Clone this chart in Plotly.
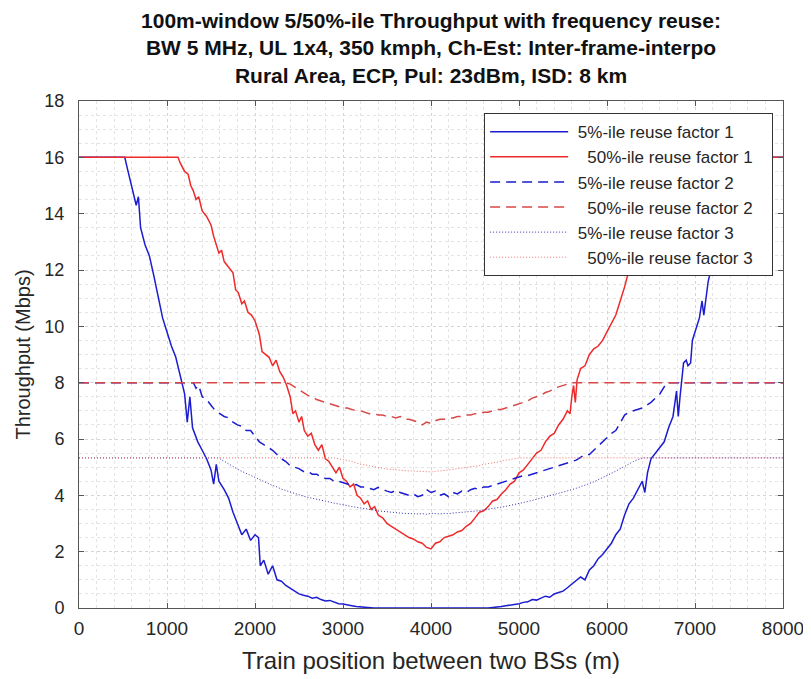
import plotly.graph_objects as go

# 5%-ile, reuse factor 1
b1_x = [0, 520, 550, 600, 650, 675, 700, 750, 800, 850, 900, 950, 1000, 1050, 1100, 1150, 1200, 1230, 1260, 1290,
        1350, 1400, 1450, 1500, 1530, 1560, 1590, 1650, 1700, 1750, 1800, 1850, 1900, 1950, 2000, 2040, 2060, 2100,
        2150, 2200, 2250, 2300, 2350, 2400, 2450, 2500, 2550, 2600, 2650, 2700, 2750, 2800, 2850, 2900, 2950, 3000,
        3050, 3100, 3150, 3200, 3250, 3300, 3350, 4650, 4700, 4750, 4800, 4850, 4900, 4950, 5000, 5050, 5100, 5150,
        5200, 5250, 5300, 5350, 5400, 5450, 5500, 5550, 5600, 5650, 5700, 5750, 5800, 5850, 5900, 5950, 6000, 6050,
        6100, 6150, 6200, 6250, 6300, 6350, 6400, 6430, 6460, 6500, 6550, 6600, 6650, 6700, 6750, 6790, 6810, 6830,
        6850, 6870, 6900, 6920, 6950, 6970, 7000, 7050, 7080, 7100, 7150, 7200, 7250, 7300, 7350, 7400, 7450, 7480,
        8000]
b1_y = [16, 16, 15.6, 15.0, 14.3, 14.6, 13.5, 12.9, 12.5, 11.8, 11.1, 10.3, 9.8, 9.3, 8.9, 8.3, 7.6, 6.6, 7.5, 6.4,
        5.9, 5.6, 5.3, 4.9, 4.4, 5.1, 4.5, 4.2, 3.9, 3.4, 3.0, 2.6, 2.8, 2.4, 2.6, 2.5, 1.5, 1.7,
        1.2, 1.5, 1.0, 0.95, 0.8, 0.7, 0.62, 0.5, 0.45, 0.42, 0.35, 0.38, 0.3, 0.25, 0.27, 0.2, 0.15, 0.14,
        0.1, 0.08, 0.05, 0.04, 0.02, 0.01, 0, 0, 0.01, 0.03, 0.05, 0.08, 0.1, 0.12, 0.15, 0.2, 0.22, 0.3,
        0.28, 0.35, 0.42, 0.38, 0.5, 0.55, 0.6, 0.72, 0.85, 0.95, 1.1, 1.0, 1.35, 1.5, 1.75, 1.9, 2.1, 2.3,
        2.6, 2.8, 3.3, 3.7, 3.9, 4.2, 4.5, 4.1, 4.8, 5.3, 5.5, 5.7, 5.9, 6.4, 6.8, 7.7, 6.8, 7.5,
        8.0, 8.7, 8.8, 8.6, 8.7, 9.5, 9.8, 10.3, 10.9, 10.4, 11.6, 12.2, 12.9, 13.7, 14.4, 15.1, 15.7, 16,
        16]

# 50%-ile, reuse factor 1
r1_x = [0, 1125, 1150, 1200, 1240, 1270, 1300, 1330, 1360, 1400, 1450, 1500, 1530, 1560, 1590, 1620, 1650, 1700,
        1750, 1780, 1810, 1850, 1880, 1920, 1960, 2000, 2050, 2080, 2120, 2160, 2200, 2240, 2280, 2320, 2360, 2400,
        2430, 2460, 2500, 2530, 2560, 2600, 2640, 2680, 2720, 2760, 2800, 2840, 2880, 2920, 2960, 3000, 3040, 3080,
        3120, 3160, 3200, 3240, 3280, 3320, 3360, 3400, 3450, 3500, 3550, 3600, 3650, 3700, 3750, 3800, 3850, 3900,
        3950, 4000, 4050, 4100, 4150, 4200, 4250, 4300, 4350, 4400, 4450, 4500, 4550, 4600, 4650, 4700, 4750, 4800,
        4850, 4900, 4950, 5000, 5050, 5100, 5150, 5200, 5250, 5300, 5350, 5400, 5450, 5500, 5550, 5580, 5600, 5620,
        5640, 5660, 5700, 5750, 5800, 5850, 5900, 5950, 6000, 6050, 6100, 6150, 6200, 6250, 6300, 6350, 6400, 6450,
        6500, 6550, 6600, 6650, 6700, 6750, 6800, 6875, 8000]
r1_y = [16, 16, 15.8, 15.5, 15.4, 15.0, 14.8, 14.5, 14.6, 14.1, 13.9, 13.6, 13.2, 12.9, 12.6, 12.7, 12.3, 12.1,
        11.9, 11.3, 11.2, 10.8, 10.9, 10.5, 10.4, 10.2, 9.7, 9.1, 9.0, 8.9, 8.6, 8.8, 8.4, 8.2, 7.9, 7.5,
        6.9, 7.0, 6.6, 6.8, 6.3, 6.1, 6.2, 5.8, 5.6, 5.8, 5.3, 5.2, 5.0, 4.8, 5.0, 4.6, 4.5, 4.3,
        4.4, 4.0, 3.9, 3.7, 3.8, 3.5, 3.6, 3.3, 3.2, 3.0, 2.9, 2.8, 2.7, 2.6, 2.5, 2.45, 2.35, 2.3,
        2.15, 2.1, 2.3, 2.35, 2.5, 2.55, 2.6, 2.7, 2.75, 2.9, 3.0, 3.2, 3.4, 3.45, 3.6, 3.8, 3.85, 4.05,
        4.2, 4.4, 4.5, 4.8, 4.9, 5.1, 5.3, 5.5, 5.6, 5.9, 6.1, 6.2, 6.5, 6.7, 7.0, 6.9, 7.5, 7.9,
        7.3, 8.1, 8.5, 8.6, 9.0, 9.2, 9.3, 9.5, 9.8, 10.1, 10.4, 10.9, 11.4, 12.0, 12.6, 13.1, 13.6, 14.0,
        14.3, 14.6, 14.9, 15.2, 15.4, 15.6, 15.8, 16, 16]

# 5%-ile, reuse factor 2
b2_x = [0, 1300, 1330, 1360, 1400, 1450, 1500, 1550, 1600, 1650, 1700, 1750, 1800, 1850, 1900, 1950, 2000, 2050,
        2100, 2150, 2200, 2250, 2300, 2350, 2400, 2450, 2500, 2550, 2600, 2650, 2700, 2750, 2800, 2850, 2900, 2950,
        3000, 3050, 3100, 3150, 3200, 3250, 3300, 3350, 3400, 3450, 3500, 3550, 3600, 3650, 3700, 3750, 3800, 3850,
        3900, 3950, 4000, 4050, 4100, 4150, 4200, 4250, 4300, 4350, 4400, 4450, 4500, 4550, 4600, 4650, 4700, 4750,
        4800, 4850, 4900, 4950, 5000, 5050, 5100, 5150, 5200, 5250, 5300, 5350, 5400, 5450, 5500, 5550, 5600, 5650,
        5700, 5750, 5800, 5850, 5900, 5950, 6000, 6050, 6100, 6150, 6200, 6250, 6300, 6350, 6400, 6450, 6500, 6550,
        6600, 6650, 6680, 8000]
b2_y = [8, 8, 7.8, 7.9, 7.5, 7.4, 7.2, 7.0, 6.9, 6.8, 6.75, 6.6, 6.5, 6.45, 6.3, 6.3, 6.1, 5.9,
        5.8, 5.7, 5.6, 5.45, 5.3, 5.2, 5.05, 5.0, 4.95, 4.85, 4.85, 4.75, 4.75, 4.65, 4.6, 4.6, 4.5, 4.5,
        4.45, 4.4, 4.35, 4.38, 4.3, 4.3, 4.25, 4.2, 4.28, 4.2, 4.15, 4.1, 4.18, 4.1, 4.05, 4.0, 4.05, 3.95,
        4.0, 4.2, 4.1, 4.15, 4.0, 4.05, 3.95, 4.1, 4.05, 4.15, 4.1, 4.2, 4.25, 4.2, 4.3, 4.3, 4.35, 4.4,
        4.45, 4.5, 4.55, 4.6, 4.65, 4.7, 4.7, 4.75, 4.8, 4.85, 4.9, 4.95, 5.0, 5.05, 5.1, 5.15, 5.2, 5.25,
        5.35, 5.45, 5.45, 5.6, 5.75, 5.9, 6.05, 6.2, 6.3, 6.55, 6.85, 6.95, 7.0, 7.05, 7.1, 7.2, 7.3, 7.45,
        7.6, 7.85, 8, 8]

# 50%-ile, reuse factor 2
r2_x = [0, 2350, 2400, 2450, 2500, 2550, 2600, 2650, 2700, 2750, 2800, 2850, 2900, 2950, 3000, 3050, 3100, 3150,
        3200, 3250, 3300, 3350, 3400, 3450, 3500, 3550, 3600, 3650, 3700, 3750, 3800, 3850, 3900, 3950, 4000, 4050,
        4100, 4150, 4200, 4250, 4300, 4350, 4400, 4450, 4500, 4550, 4600, 4650, 4700, 4750, 4800, 4850, 4900, 4950,
        5000, 5050, 5100, 5150, 5200, 5250, 5300, 5350, 5400, 5450, 5500, 5550, 5600, 8000]
r2_y = [8, 8, 7.95, 7.85, 7.75, 7.65, 7.55, 7.5, 7.4, 7.35, 7.3, 7.25, 7.2, 7.15, 7.1, 7.1, 7.05, 7.0,
        7.0, 6.95, 6.9, 6.9, 6.85, 6.85, 6.8, 6.8, 6.75, 6.8, 6.7, 6.7, 6.65, 6.6, 6.5, 6.6, 6.55, 6.65,
        6.7, 6.7, 6.75, 6.75, 6.8, 6.8, 6.85, 6.85, 6.9, 6.9, 6.95, 6.95, 7.0, 7.05, 7.05, 7.1, 7.15, 7.2,
        7.25, 7.3, 7.35, 7.45, 7.5, 7.55, 7.65, 7.7, 7.8, 7.85, 7.92, 7.97, 8, 8]

# 5%-ile, reuse factor 3
b3_x = [0, 1580, 1600, 1650, 1700, 1750, 1800, 1850, 1900, 1950, 2000, 2050, 2100, 2150, 2200, 2250, 2300, 2350,
        2400, 2450, 2500, 2550, 2600, 2650, 2700, 2750, 2800, 2850, 2900, 2950, 3000, 3050, 3100, 3150, 3200, 3250,
        3300, 3350, 3400, 3450, 3500, 3550, 3600, 3650, 3700, 3750, 3800, 3850, 3900, 3950, 4000, 4050, 4100, 4150,
        4200, 4250, 4300, 4350, 4400, 4450, 4500, 4550, 4600, 4650, 4700, 4750, 4800, 4850, 4900, 4950, 5000, 5050,
        5100, 5150, 5200, 5250, 5300, 5350, 5400, 5450, 5500, 5550, 5600, 5650, 5700, 5750, 5800, 5850, 5900, 5950,
        6000, 6050, 6100, 6150, 6200, 6250, 6300, 6350, 6400, 6420, 8000]
b3_y = [5.33, 5.33, 5.3, 5.2, 5.1, 5.0, 4.93, 4.85, 4.78, 4.7, 4.62, 4.55, 4.48, 4.42, 4.35, 4.3, 4.22, 4.17,
        4.12, 4.06, 4.0, 3.97, 3.93, 3.9, 3.86, 3.82, 3.8, 3.76, 3.72, 3.7, 3.66, 3.64, 3.6, 3.58, 3.55, 3.52,
        3.5, 3.48, 3.45, 3.43, 3.42, 3.4, 3.38, 3.37, 3.36, 3.35, 3.36, 3.34, 3.35, 3.33, 3.36, 3.35, 3.34, 3.36,
        3.35, 3.37, 3.38, 3.39, 3.4, 3.42, 3.44, 3.46, 3.48, 3.5, 3.52, 3.55, 3.58, 3.61, 3.64, 3.67, 3.7, 3.74,
        3.78, 3.82, 3.86, 3.9, 3.94, 3.98, 4.02, 4.06, 4.1, 4.15, 4.2, 4.25, 4.3, 4.36, 4.42, 4.48, 4.55, 4.62,
        4.7, 4.78, 4.86, 4.95, 5.05, 5.13, 5.2, 5.27, 5.31, 5.33, 5.33]

# 50%-ile, reuse factor 3
r3_x = [0, 2900, 2950, 3000, 3050, 3100, 3150, 3200, 3250, 3300, 3350, 3400, 3450, 3500, 3550, 3600, 3650, 3700,
        3750, 3800, 3850, 3900, 3950, 4000, 4050, 4100, 4150, 4200, 4250, 4300, 4350, 4400, 4450, 4500, 4550, 4600,
        4650, 4700, 4750, 4800, 4850, 4900, 4950, 5000, 8000]
r3_y = [5.33, 5.33, 5.3, 5.27, 5.22, 5.2, 5.15, 5.1, 5.08, 5.05, 5.0, 4.97, 4.95, 4.93, 4.92, 4.9, 4.9, 4.88,
        4.87, 4.86, 4.85, 4.84, 4.82, 4.83, 4.85, 4.86, 4.88, 4.9, 4.92, 4.94, 4.96, 4.98, 5.0, 5.03, 5.06, 5.1,
        5.12, 5.15, 5.18, 5.22, 5.25, 5.28, 5.31, 5.33, 5.33]

names = ["\u00a05%-ile reuse factor 1", "\u00a0\u00a0\u00a050%-ile reuse factor 1",
         "\u00a05%-ile reuse factor 2", "\u00a0\u00a0\u00a050%-ile reuse factor 2",
         "\u00a05%-ile reuse factor 3", "\u00a0\u00a0\u00a050%-ile reuse factor 3"]

blue = "#1c1cd0"
red = "#ee2a2a"

series = [
    (b1_x, b1_y, dict(color=blue, width=1.5)),
    (r1_x, r1_y, dict(color=red, width=1.5)),
    (b2_x, b2_y, dict(color=blue, width=1.5, dash="10px,6px")),
    (r2_x, r2_y, dict(color="#d84848", width=1.5, dash="10px,6px")),
    (b3_x, b3_y, dict(color="#3030b0", width=1, dash="1px,2px")),
    (r3_x, r3_y, dict(color="#f07070", width=1, dash="1px,2px")),
]

fig = go.Figure()
for i, (xs, ys, ln) in enumerate(series):
    fig.add_trace(go.Scatter(x=xs, y=ys, mode="lines", line=ln, name=names[i] + "\u00a0\u00a0\u00a0",
                             legendgroup="g%d" % i))

font_name = "Liberation Sans, Arial"
axis_common = dict(
    showline=True, linecolor="#555555", linewidth=1, mirror="ticks",
    ticks="inside", ticklen=5, tickcolor="#555555",
    showgrid=True, gridcolor="#d4d4d4", griddash="dot", gridwidth=1,
    zeroline=False, automargin=False,
)

fig.update_xaxes(range=[0, 8000], dtick=1000,
                 title=dict(text="Train position between two BSs (m)", standoff=14,
                            font=dict(family=font_name, size=24, color="#262626")),
                 minor=dict(dtick=200, showgrid=True, gridcolor="#e4e4e4", griddash="dot"),
                 tickfont=dict(family=font_name, size=19, color="#262626"),
                 ticklabelstandoff=3, **axis_common)
fig.update_yaxes(range=[0, 18], dtick=2,
                 title=dict(text="Throughput (Mbps)", standoff=8,
                            font=dict(family=font_name, size=20, color="#262626")),
                 minor=dict(dtick=0.5, showgrid=True, gridcolor="#e4e4e4", griddash="dot"),
                 tickfont=dict(family=font_name, size=18, color="#262626"),
                 ticklabelstandoff=10, **axis_common)

# page body adds an 8px margin on left/top, so the figure is 8px smaller
fig.update_layout(
    width=803, height=671,
    margin=dict(l=71, r=28, t=93, b=71),
    paper_bgcolor="white", plot_bgcolor="white",
    title=dict(
        text="100m-window 5/50%-ile Throughput with frequency reuse:<br>"
             "BW 5 MHz, UL 1x4, 350 kmph, Ch-Est: Inter-frame-interpo<br>"
             "Rural Area, ECP, Pul: 23dBm, ISD: 8 km",
        x=0.5, xref="paper", xanchor="center",
        y=0.970, yref="container", yanchor="top",
        font=dict(family=font_name, size=21, color="#111111", weight="bold"),
    ),
    legend=dict(
        x=0.986, xanchor="right", y=0.976, yanchor="top",
        bgcolor="white", bordercolor="#333333", borderwidth=1,
        font=dict(family=font_name, size=17, color="#262626"),
        itemwidth=78, tracegroupgap=0, traceorder="grouped",
    ),
    showlegend=True,
)

fig.write_html("out.html")
